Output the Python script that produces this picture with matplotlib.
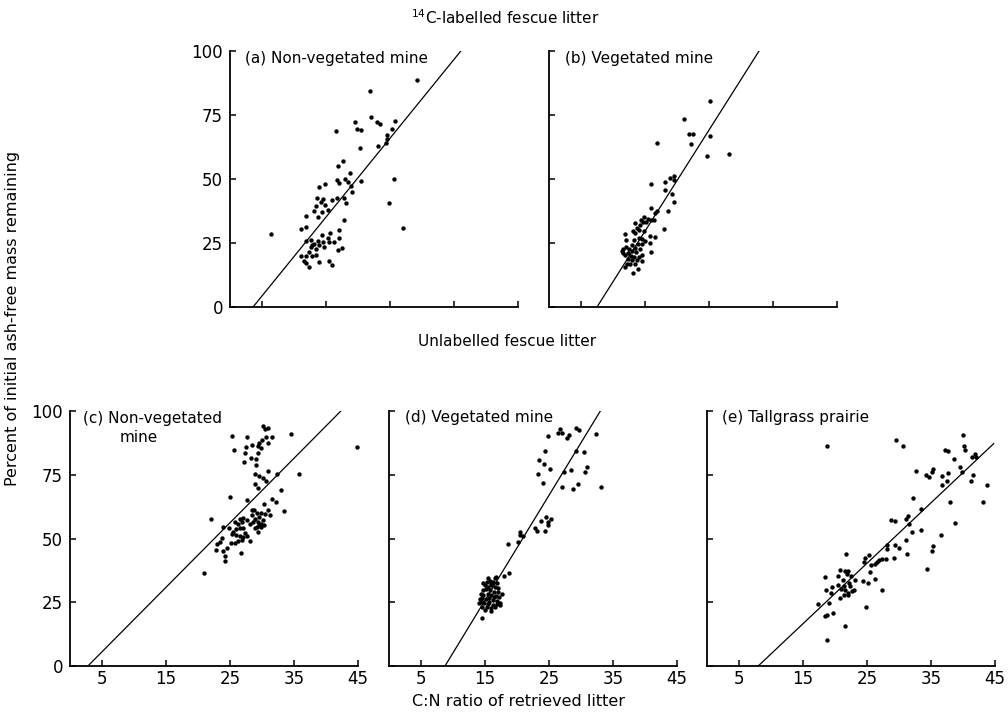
import matplotlib
matplotlib.use("Agg")
import matplotlib.pyplot as plt
import numpy as np

plt.rcParams["font.family"] = ["DejaVu Sans"]

# ── data (C:N ratio vs % ash-free mass remaining) ────────────────────────────
a_cn = [6.4, 29.2, 21.9, 22.1, 19.6, 19.8, 20.5, 16.5, 22.9, 23.5, 25.8, 25.3, 24.6, 24.6,
        24.3, 23.1, 20.3, 17.6, 16.8, 25.6, 18.8, 20.5, 17.9, 16.7, 17.1, 18.5, 18.9, 19.1,
        14.9, 13.9, 24.8, 17.8, 16.7, 18.2, 13.6, 14.5, 14.2, 14.8, 13.4, 15.9, 15.3, 13.2,
        14.4, 13.7, 11.9, 17.8, 11.9, 11.1, 17.1, 27.0, 14.4, 15.6, 11.9, 12.6, 17.1, 13.8,
        14.6, 15.3, 15.4, 16.3, 12.8, 13.2, 13.9, 14.7, 12.7, 13.4, 17.5, 16.8, 11.1, 12.3,
        13.5, 12.8, 11.9, 11.5, 11.9, 12.3, 13.9, 15.4, 15.9]
a_mass = [28.5, 88.7, 84.5, 74.3, 72.4, 69.5, 69.3, 68.9, 72.3, 71.5, 72.8, 69.4, 67.2, 65.5,
          63.9, 63.0, 62.0, 57.0, 55.1, 49.9, 52.2, 49.3, 50.0, 49.6, 48.3, 48.8, 47.4, 45.1,
          48.0, 46.9, 40.5, 42.4, 42.6, 40.8, 42.7, 42.3, 40.9, 40.0, 39.6, 41.8, 37.9, 37.6,
          37.1, 35.0, 35.7, 33.9, 31.1, 30.6, 30.1, 30.7, 28.1, 28.8, 25.8, 26.2, 26.8, 25.7,
          25.4, 27.1, 25.4, 25.5, 24.2, 24.6, 24.3, 23.6, 23.3, 22.5, 23.0, 22.3, 19.8, 21.4,
          20.4, 20.1, 19.9, 18.1, 17.3, 15.8, 17.4, 18.0, 16.4]

b_cn = [25.1, 21.1, 21.8, 22.5, 25.1, 22.2, 16.9, 24.7, 28.2, 19.5, 18.9, 19.5, 18.1, 16.0,
        18.2, 19.2, 19.5, 18.6, 15.9, 16.9, 16.5, 14.9, 15.5, 16.0, 16.4, 14.4, 14.7, 13.5,
        15.2, 18.0, 14.2, 13.7, 14.1, 14.8, 13.1, 13.5, 11.8, 15.8, 16.6, 14.1, 14.6, 13.3,
        12.1, 15.8, 14.6, 13.9, 13.0, 12.0, 13.4, 11.6, 12.5, 14.2, 15.9, 11.6, 12.4, 12.9,
        13.6, 14.5, 11.9, 12.8, 13.3, 14.0, 12.3, 13.0, 13.7, 14.5, 11.9, 12.7, 13.5, 13.1,
        13.9, 12.2, 11.4, 15.0]
b_mass = [80.6, 73.3, 67.7, 67.6, 66.7, 63.5, 64.1, 59.1, 59.9, 51.0, 50.4, 49.6, 48.8, 48.0,
          45.8, 44.1, 41.0, 37.6, 38.8, 37.6, 36.6, 35.2, 34.4, 34.1, 33.9, 34.1, 33.3, 32.9,
          33.1, 30.5, 31.9, 30.9, 30.1, 29.7, 29.8, 28.8, 28.5, 27.7, 27.3, 27.0, 26.4, 26.0,
          26.0, 25.0, 24.6, 24.6, 24.1, 23.6, 23.2, 22.7, 22.5, 22.7, 21.4, 21.2, 21.0, 21.7,
          21.4, 20.4, 20.3, 19.9, 19.4, 19.7, 18.8, 18.4, 18.4, 18.1, 15.5, 16.8, 16.8, 13.4,
          14.8, 16.8, 22.0, 25.9]

c_cn = [21.0, 22.1, 44.8, 35.8, 34.5, 33.4, 33.0, 32.4, 32.2, 31.5, 31.3, 31.0, 30.7, 30.3,
        30.1, 29.5, 28.9, 28.9, 29.3, 27.6, 25.0, 25.3, 27.6, 25.7, 27.5, 27.3, 27.2, 28.3,
        28.5, 29.0, 29.0, 29.3, 29.4, 29.5, 29.9, 30.0, 30.1, 30.5, 30.9, 31.0, 31.6, 30.6,
        31.0, 28.4, 28.8, 29.2, 28.5, 29.8, 30.5, 29.6, 28.9, 30.2, 29.4, 28.6, 29.9, 29.2,
        29.6, 28.9, 29.3, 28.2, 27.6, 27.1, 26.5, 26.8, 26.3, 25.8, 26.6, 27.1, 25.9, 25.5,
        24.9, 23.9, 25.3, 26.0, 26.6, 27.3, 27.1, 26.8, 26.3, 25.8, 25.2, 28.1, 23.7, 23.5,
        23.0, 22.8, 23.9, 24.5, 24.2, 24.2, 26.7, 27.6, 29.8, 30.3]
c_mass = [36.5, 57.6, 85.8, 75.4, 90.9, 60.8, 69.0, 75.4, 64.4, 65.4, 59.2, 76.6, 72.5, 63.7,
          73.6, 74.5, 75.2, 71.4, 69.9, 65.1, 66.3, 90.2, 89.9, 84.8, 86.0, 83.5, 80.1, 81.4,
          86.7, 81.0, 78.9, 86.3, 83.4, 87.6, 85.6, 88.8, 94.1, 92.8, 93.2, 87.5, 89.9, 89.9,
          61.2, 61.2, 61.2, 60.1, 59.2, 60.1, 59.6, 58.3, 57.5, 57.3, 56.6, 56.6, 55.7, 54.6,
          55.3, 54.0, 52.7, 55.7, 57.3, 57.9, 57.6, 56.6, 55.7, 56.6, 54.0, 54.0, 53.6, 52.7,
          54.0, 54.6, 51.8, 51.4, 51.0, 52.0, 50.7, 49.4, 49.1, 48.4, 48.1, 49.0, 50.1, 48.8,
          47.7, 45.5, 45.2, 46.1, 43.3, 41.3, 44.2, 51.0, 54.6, 55.3]

d_cn = [24.9, 26.7, 27.0, 26.4, 27.8, 28.2, 29.2, 29.7, 32.3, 24.4, 29.2, 30.5, 23.5, 24.2,
        25.2, 23.3, 24.1, 27.3, 28.5, 30.9, 30.7, 27.0, 28.8, 29.5, 33.2, 22.8, 23.2, 23.8,
        24.3, 24.5, 24.8, 25.3, 24.9, 20.4, 20.4, 20.9, 20.2, 18.6, 18.8, 17.9, 16.7,
        14.5, 15.9, 14.0, 14.2, 14.4, 14.7, 15.0, 15.3, 15.8, 16.3, 16.8, 15.5, 16.0, 16.6,
        17.1, 15.2, 15.8, 16.4, 17.0, 14.7, 15.4, 16.0, 16.7, 17.2, 14.5, 15.2, 15.7, 16.3,
        16.9, 17.4, 14.9, 15.5, 16.2, 16.8, 14.6, 15.3, 15.9, 16.6, 17.3, 15.0, 14.5, 17.6,
        15.9, 14.7, 15.4, 16.5, 15.6, 16.4]
d_mass = [90.3, 92.8, 91.5, 91.5, 89.5, 90.6, 93.5, 92.4, 90.8, 84.3, 84.3, 84.1, 80.8, 79.1,
          77.3, 75.2, 71.9, 76.2, 76.7, 78.2, 75.9, 70.3, 69.4, 71.2, 70.2, 54.2, 53.1, 57.0,
          53.1, 58.4, 56.5, 57.8, 55.4, 52.7, 51.2, 50.9, 48.5, 47.8, 36.3, 35.3, 35.0,
          18.7, 21.6, 24.6, 26.1, 28.2, 29.8, 31.8, 33.1, 33.5, 33.1, 32.7, 31.1, 31.8, 31.1,
          30.5, 30.1, 29.8, 29.2, 29.2, 27.8, 28.2, 27.8, 27.5, 27.2, 26.5, 26.1, 26.5, 25.9,
          25.6, 24.6, 24.6, 24.3, 23.9, 24.3, 23.3, 23.0, 22.6, 23.3, 23.9, 22.0, 25.2, 28.2,
          32.4, 32.4, 34.4, 34.4, 25.2, 27.2]

e_cn = [18.8, 29.6, 30.6, 40.0, 40.1, 40.3, 37.2, 37.7, 38.6, 41.4, 41.9, 42.1, 39.6, 39.8,
        41.6, 41.2, 43.7, 43.2, 32.6, 34.2, 34.7, 35.1, 35.3, 36.7, 37.5, 36.7, 37.7, 38.0,
        38.7, 36.6, 35.3, 35.1, 34.4, 32.2, 33.4, 33.5, 31.4, 31.1, 29.4, 28.8, 31.6, 32.0,
        31.1, 31.3, 30.0, 29.4, 29.2, 28.2, 28.2, 27.9, 27.3, 26.6, 26.8, 26.3, 25.6, 25.4,
        26.3, 27.3, 24.7, 25.3, 24.6, 25.2, 24.4, 24.8, 21.7, 22.1, 20.8, 21.5, 20.4, 21.8,
        22.5, 23.1, 21.2, 22.2, 18.5, 19.5, 18.6, 20.5, 21.4, 20.9, 22.4, 23.0, 22.7, 21.6,
        22.0, 21.4, 22.1, 20.8, 19.4, 19.0, 17.4, 18.4, 18.8, 19.7, 21.5, 18.8]
e_mass = [86.4, 88.6, 86.4, 90.6, 86.3, 84.7, 84.9, 84.4, 81.3, 81.8, 83.1, 81.8, 77.9, 76.2,
          74.9, 72.4, 70.9, 64.2, 76.6, 75.0, 74.1, 75.9, 77.3, 74.4, 72.4, 70.8, 75.6, 64.2,
          56.2, 51.2, 47.2, 45.1, 38.2, 65.9, 61.7, 53.3, 58.9, 57.5, 56.9, 57.2, 55.6, 52.7,
          49.6, 44.0, 46.2, 47.4, 42.2, 47.6, 45.7, 42.1, 42.0, 40.8, 41.6, 39.9, 39.6, 37.0,
          34.1, 29.8, 42.2, 43.4, 40.6, 32.7, 33.4, 23.1, 43.9, 37.4, 37.5, 37.1, 35.1, 36.0,
          35.3, 33.8, 33.7, 32.7, 34.9, 30.8, 30.0, 31.9, 31.3, 30.2, 31.5, 30.0, 29.6, 29.7,
          28.8, 28.0, 28.0, 26.7, 28.7, 24.8, 24.5, 19.6, 19.9, 20.7, 15.6, 10.2]

# regression lines: C:N value where the line meets 0 %, and slope (% per unit C:N)
fit_x0 = [3.6, 7.5, 2.8, 8.75, 8.0]
fit_slope = [3.08, 3.95, 2.53, 4.12, 2.37]
fit_xmax = [45, 45, 45, 45, 44.8]

panel_titles = ["(a) Non-vegetated mine", "(b) Vegetated mine", "(c) Non-vegetated",
                "(d) Vegetated mine", "(e) Tallgrass prairie"]
x_ticks = [5, 15, 25, 35, 45]
y_ticks = [0, 25, 50, 75, 100]

# ── layout (figure pixels 1008 x 712) ─────────────────────────────────────────
W, H = 1008, 712
fig = plt.figure(figsize=(W / 100, H / 100), dpi=100)
fig.patch.set_facecolor("white")

def px_axes(left, bottom, width=288, height=256):
    return fig.add_axes([left / W, (H - bottom) / H, width / W, height / H])

axes = [
    px_axes(230, 307),
    px_axes(549, 307),
    px_axes(70, 666, height=255),
    px_axes(389, 666, height=255),
    px_axes(707, 666, height=255),
]
data = [(a_cn, a_mass), (b_cn, b_mass), (c_cn, c_mass), (d_cn, d_mass), (e_cn, e_mass)]
label_pos = [(0.052, 0.969), (0.056, 0.969), (0.045, 0.969), (0.056, 0.973), (0.052, 0.976)]

for i, ax in enumerate(axes):
    xs, ys = data[i]
    ax.scatter(xs, ys, s=10, color="black", linewidths=0, zorder=3, clip_on=False)
    lx = np.array([fit_x0[i], fit_xmax[i]])
    ax.plot(lx, fit_slope[i] * (lx - fit_x0[i]), color="black", lw=0.9, zorder=2)

    ax.set_xlim(0, 45)
    ax.set_ylim(0, 100)
    ax.set_xticks(x_ticks)
    ax.set_yticks(y_ticks)
    for side in ("top", "right"):
        ax.spines[side].set_visible(False)
    for side in ("left", "bottom"):
        ax.spines[side].set_linewidth(1.3)
    ax.tick_params(direction="in", length=4, width=1.1, labelsize=12, pad=5)
    ax.tick_params(axis="x", pad=3)

    if i in (0, 1):
        ax.set_xticklabels([])
    if i in (1, 3, 4):
        ax.set_yticklabels([])

    tx, ty = label_pos[i]
    ax.text(tx, ty, panel_titles[i], transform=ax.transAxes, fontsize=11,
            ha="left", va="center")

axes[2].text(0.174, 0.898, "mine", transform=axes[2].transAxes, fontsize=11,
             ha="left", va="center")

# ── shared labels ────────────────────────────────────────────────────────────
fig.text(505 / W, 1 - 18 / H, r"$^{14}$C-labelled fescue litter", fontsize=11,
         ha="center", va="center")
fig.text(507 / W, 1 - 342 / H, "Unlabelled fescue litter", fontsize=11,
         ha="center", va="center")
fig.text(519 / W, 1 - 701 / H, "C:N ratio of retrieved litter", fontsize=11.5,
         ha="center", va="center")
fig.text(13 / W, 1 - 318 / H, "Percent of initial ash-free mass remaining", fontsize=11.5,
         ha="center", va="center", rotation=90)

fig.savefig("out.png", dpi=100, facecolor="white")
